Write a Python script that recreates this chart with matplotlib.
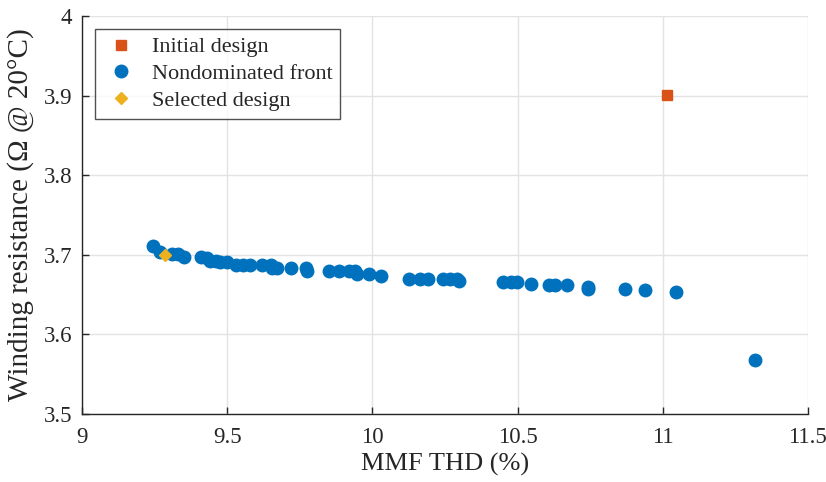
import numpy as np
import matplotlib.pyplot as plt

plt.rcParams['font.family'] = ['Liberation Serif', 'DejaVu Serif']
plt.rcParams['mathtext.fontset'] = 'stix'

# Pareto front from the optimisation run
thd_front = [9.245, 9.27, 9.31, 9.33, 9.35, 9.41, 9.43, 9.44, 9.46, 9.475,
             9.50, 9.53, 9.555, 9.58, 9.62, 9.65, 9.655, 9.67, 9.72, 9.77,
             9.775, 9.85, 9.885, 9.92, 9.94, 9.947, 9.99, 10.03, 10.126, 10.164,
             10.19, 10.243, 10.267, 10.29, 10.30, 10.45, 10.477, 10.498, 10.546, 10.608,
             10.63, 10.67, 10.742, 10.742, 10.87, 10.94, 11.045, 11.317]
res_front = [3.711, 3.704, 3.701, 3.701, 3.697, 3.697, 3.696, 3.692, 3.692, 3.691,
             3.691, 3.687, 3.687, 3.687, 3.687, 3.687, 3.683, 3.683, 3.683, 3.683,
             3.680, 3.680, 3.680, 3.680, 3.680, 3.676, 3.676, 3.673, 3.670, 3.670,
             3.670, 3.670, 3.670, 3.670, 3.667, 3.666, 3.666, 3.666, 3.663, 3.662,
             3.662, 3.662, 3.660, 3.657, 3.657, 3.656, 3.653, 3.568]

thd_initial = [11.015]
res_initial = [3.901]

thd_selected = [9.286]
res_selected = [3.700]

blue = '#0072BD'
orange = '#D95319'
yellow = '#EDB120'
dark = '#262626'

fig = plt.figure(figsize=(8.26, 4.82), dpi=100)
ax = fig.add_axes([0.0993, 0.141, 0.8787, 0.826])

ax.plot(thd_initial, res_initial, 's', color=orange, markersize=6.5,
        linestyle='none', label='Initial design', zorder=3)
ax.plot(thd_front, res_front, 'o', color=blue, markersize=9,
        linestyle='none', label='Nondominated front', zorder=3)
ax.plot(thd_selected, res_selected, 'D', color=yellow, markersize=6.5,
        linestyle='none', label='Selected design', zorder=4)

ax.set_xlim(9, 11.5)
ax.set_ylim(3.5, 4)
ax.set_xticks([9, 9.5, 10, 10.5, 11, 11.5])
ax.set_xticklabels(['9', '9.5', '10', '10.5', '11', '11.5'])
ax.set_yticks([3.5, 3.6, 3.7, 3.8, 3.9, 4])
ax.set_yticklabels(['3.5', '3.6', '3.7', '3.8', '3.9', '4'])

ax.grid(True, color='#e3e3e3', linewidth=1.0)
ax.set_axisbelow(True)
ax.spines['top'].set_visible(False)
ax.spines['right'].set_visible(False)
for s in ('left', 'bottom'):
    ax.spines[s].set_color(dark)
    ax.spines[s].set_linewidth(1.0)
ax.tick_params(direction='in', length=5, width=1.0, colors=dark,
               labelsize=16.5)
ax.tick_params(axis='x', pad=9)
ax.tick_params(axis='y', pad=7)

ax.set_xlabel('MMF THD (%)', fontsize=19, color=dark, labelpad=4)
ax.set_ylabel('Winding resistance (Ω @ 20°C)', fontsize=21, color=dark, labelpad=7)

leg = ax.legend(loc='upper left', bbox_to_anchor=(0.018, 0.967), fontsize=16,
                frameon=True, fancybox=False, borderpad=0.35, borderaxespad=0,
                labelspacing=0.28, handletextpad=0.6, handlelength=1.6)
leg.get_frame().set_edgecolor(dark)
leg.get_frame().set_linewidth(1.0)
for t in leg.get_texts():
    t.set_color(dark)

fig.savefig('out.png', dpi=100)
